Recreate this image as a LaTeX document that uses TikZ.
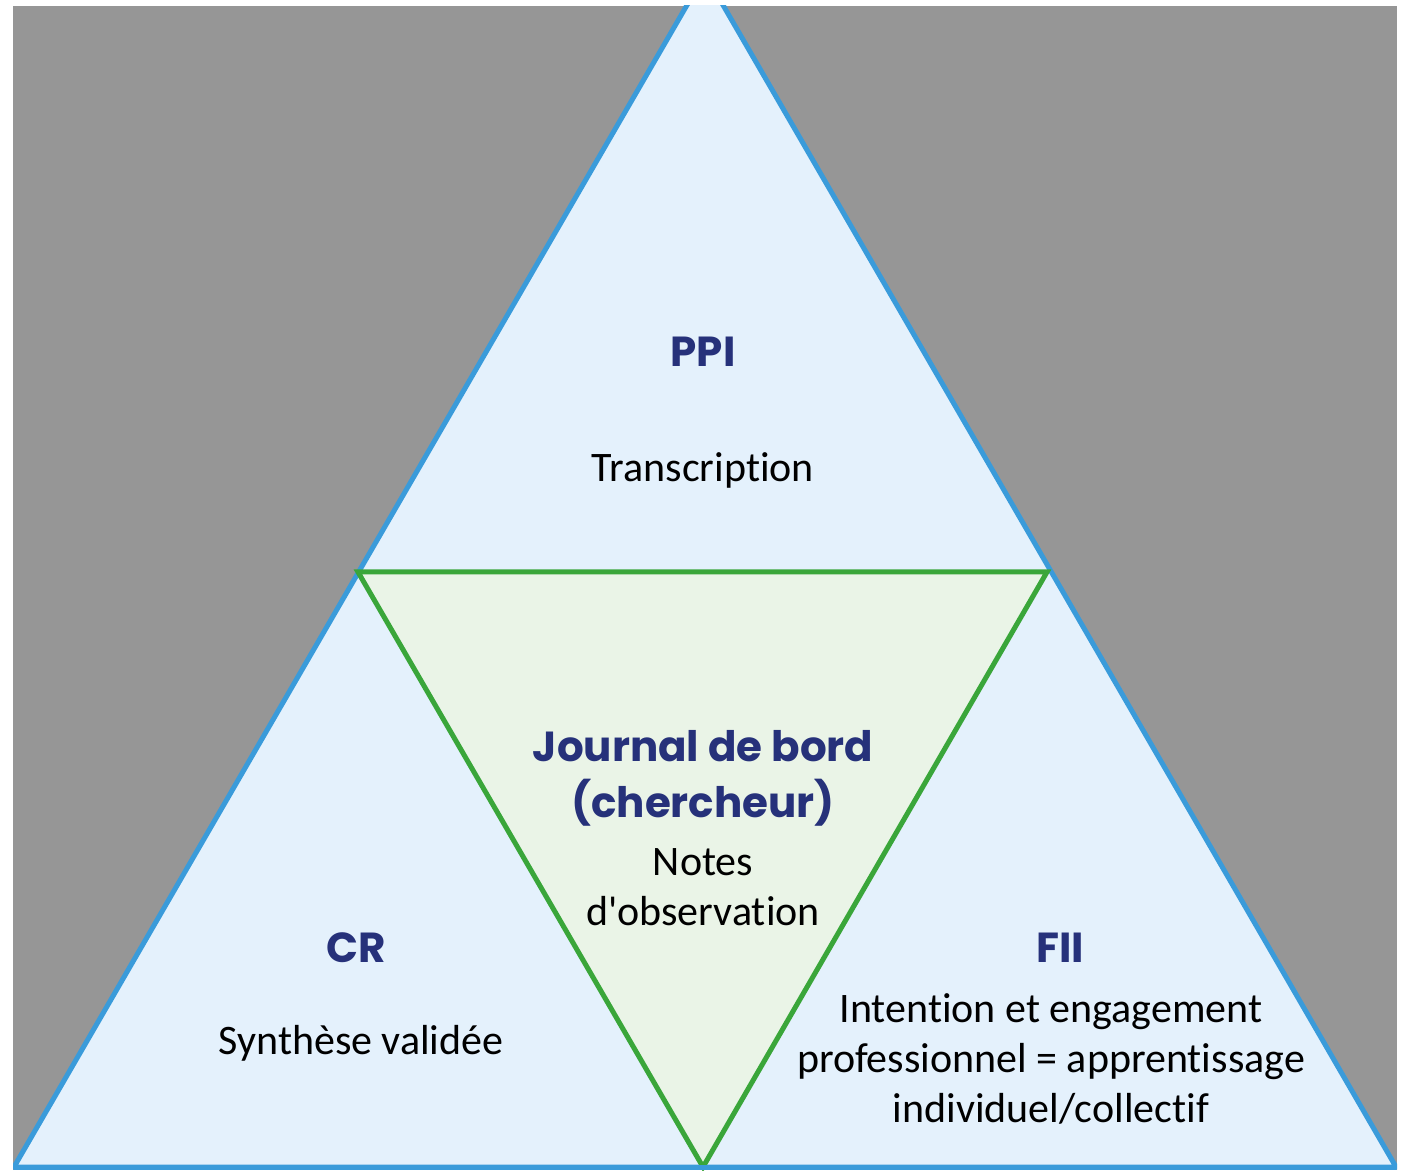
\documentclass[tikz,border=0pt]{standalone}
\usepackage{fontspec}
\setmainfont{Carlito}[Ligatures={TeXOff,CommonOff}]
\newfontfamily\headfont{Poppins}
\definecolor{bggrey}{HTML}{969696}
\definecolor{skyfill}{HTML}{E4F1FC}
\definecolor{skyline}{HTML}{3A9BDA}
\definecolor{leafline}{HTML}{3AA63A}
\definecolor{leaffill}{HTML}{EAF4E7}
\definecolor{navy}{HTML}{26317A}
\tikzset{
  title/.style={text=navy,font=\headfont\bfseries\fontsize{42}{56}\selectfont,align=center,inner sep=0pt},
  body/.style={text=black,font=\fontsize{42}{50}\selectfont,align=center,inner sep=0pt},
}
\begin{document}
\begin{tikzpicture}[x=1pt,y=1pt]
\useasboundingbox (0,0) rectangle (1402,1170);
\fill [bggrey] (13,0) rectangle (1397,1164);
\begin{scope}
\clip (13,0) rectangle (1397,1164);
\coordinate (top) at (705,1196);
\coordinate (bl) at (14,3);
\coordinate (br) at (1396,3);
\filldraw [skyfill,draw=skyline,line width=5pt,line join=miter] (bl) -- (top) -- (br) -- cycle;
\end{scope}
\coordinate (il) at (358,598);
\coordinate (ir) at (1047,598);
\coordinate (ib) at (703,3);
\filldraw [leaffill,draw=leafline,line width=5pt,line join=miter] (il) -- (ir) -- (ib) -- cycle;
\draw [skyline,line width=5pt] (bl) -- (br);
% top part
\node [title] (ppi) at (703,818) {PPI};
\node [body] (transcr) at (703,700) {Transcription};
% middle part
\node [title] (jdb) at (703,392) {Journal de bord\\(chercheur)};
\node [body] (notes) at (703,283) {Notes\\d'observation};
% left part
\node [title] (cr) at (356,222) {CR};
\node [body] (synth) at (361,127) {Synthèse validée};
% right part
\node [title] (fii) at (1060,222) {FII};
\node [body] (intent) at (1051,111) {Intention et engagement\\professionnel = apprentissage\\individuel/collectif};
\end{tikzpicture}
\end{document}
